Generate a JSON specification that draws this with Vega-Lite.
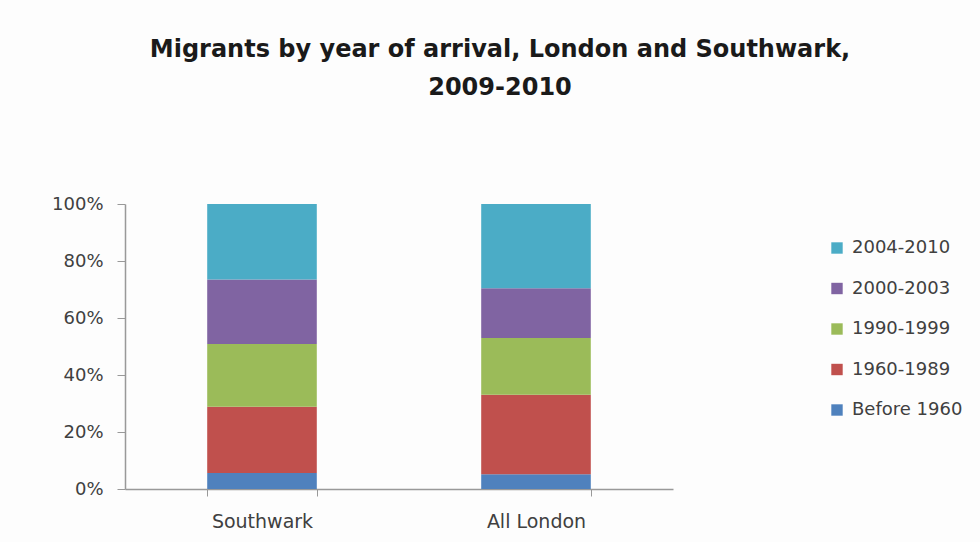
{
  "$schema": "https://vega.github.io/schema/vega-lite/v6.json",
  "autosize": "none",
  "width": 548,
  "height": 285,
  "padding": {"left": 125, "top": 204, "right": 307, "bottom": 53},
  "background": "#fdfdfd",
  "title": {
    "text": ["Migrants by year of arrival, London and Southwark,", "2009-2010"],
    "font": "DejaVu Sans",
    "fontSize": 24,
    "fontWeight": "bold",
    "color": "#1a1a1a",
    "anchor": "middle",
    "dx": 101,
    "offset": 95,
    "lineHeight": 38
  },
  "data": {
    "values": [
      {"area": "Southwark", "period": "Before 1960", "chrono": 1, "share": 5.6},
      {"area": "Southwark", "period": "1960-1989", "chrono": 2, "share": 23.3},
      {"area": "Southwark", "period": "1990-1999", "chrono": 3, "share": 22.0},
      {"area": "Southwark", "period": "2000-2003", "chrono": 4, "share": 22.6},
      {"area": "Southwark", "period": "2004-2010", "chrono": 5, "share": 26.5},
      {"area": "All London", "period": "Before 1960", "chrono": 1, "share": 5.2},
      {"area": "All London", "period": "1960-1989", "chrono": 2, "share": 27.9},
      {"area": "All London", "period": "1990-1999", "chrono": 3, "share": 19.9},
      {"area": "All London", "period": "2000-2003", "chrono": 4, "share": 17.4},
      {"area": "All London", "period": "2004-2010", "chrono": 5, "share": 29.6}
    ]
  },
  "mark": {"type": "bar"},
  "encoding": {
    "x": {
      "field": "area",
      "type": "nominal",
      "sort": ["Southwark", "All London"],
      "scale": {"paddingInner": 0.6, "paddingOuter": 0.3},
      "axis": {
        "title": null,
        "labelAngle": 0,
        "labelFont": "DejaVu Sans",
        "labelFontSize": 19,
        "labelColor": "#404040",
        "labelPadding": 16,
        "domainColor": "#999999",
        "domainWidth": 1.5,
        "tickColor": "#999999",
        "tickSize": 7,
        "tickBand": "extent"
      }
    },
    "y": {
      "field": "share",
      "type": "quantitative",
      "stack": "normalize",
      "scale": {"domain": [0, 1]},
      "axis": {
        "title": null,
        "format": ".0%",
        "values": [0, 0.2, 0.4, 0.6, 0.8, 1],
        "grid": false,
        "labelFont": "DejaVu Sans",
        "labelFontSize": 18,
        "labelColor": "#404040",
        "labelPadding": 14,
        "domainColor": "#999999",
        "domainWidth": 1.5,
        "tickColor": "#999999",
        "tickSize": 8
      }
    },
    "color": {
      "field": "period",
      "type": "nominal",
      "scale": {
        "domain": ["2004-2010", "2000-2003", "1990-1999", "1960-1989", "Before 1960"],
        "range": ["#4BACC6", "#8064A2", "#9BBB59", "#C0504D", "#4F81BD"]
      },
      "legend": {
        "title": null,
        "orient": "none",
        "legendX": 703,
        "legendY": 35,
        "symbolType": "square",
        "symbolSize": 130,
        "symbolStrokeWidth": 0,
        "labelFont": "DejaVu Sans",
        "labelFontSize": 18,
        "labelColor": "#404040",
        "rowPadding": 22.5,
        "labelOffset": 6
      }
    },
    "order": {"field": "chrono", "type": "quantitative", "sort": "ascending"}
  },
  "config": {"view": {"stroke": null}}
}
